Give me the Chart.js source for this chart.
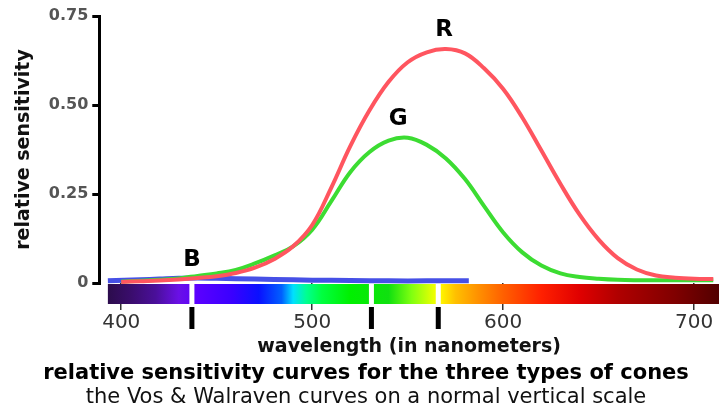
<!DOCTYPE html>
<html lang="en">
<head>
	<meta charset="UTF-8">
	<title>Cone sensitivity</title>
	<script src="https://cdn.jsdelivr.net/npm/chart.js@4.4.1/dist/chart.umd.min.js"></script>
	<style>
		body { margin: 0; background: #fff; }
		#wrap { width: 719px; height: 410px; }
	</style>
</head>
<body>
	<div id="wrap"><canvas id="myChart"></canvas></div>

	<script>
		// wavelengths (nm) for the R and G curves
		const wavelengths = [400, 410, 420, 430, 440, 450, 460, 470, 480, 490, 500, 510, 520, 530, 540, 550, 560, 570, 580, 590, 600, 610, 620, 630, 640, 650, 660, 670, 680, 690, 700, 710]
		const redValues = [0.003, 0.005, 0.007, 0.010, 0.014, 0.019, 0.028, 0.043, 0.067, 0.103, 0.163, 0.268, 0.385, 0.485, 0.565, 0.620, 0.648, 0.657, 0.645, 0.603, 0.545, 0.465, 0.372, 0.278, 0.192, 0.122, 0.070, 0.038, 0.021, 0.015, 0.012, 0.011]
		const greenValues = [0.004, 0.006, 0.009, 0.013, 0.020, 0.027, 0.037, 0.055, 0.077, 0.103, 0.150, 0.230, 0.312, 0.368, 0.400, 0.408, 0.388, 0.350, 0.292, 0.216, 0.142, 0.086, 0.049, 0.027, 0.017, 0.012, 0.009, 0.008, 0.008, 0.008, 0.008, 0.008]

		// the B curve is short and nearly flat
		const blueWavelengths = [393, 410, 420, 430, 440, 450, 460, 480, 500, 520, 540, 560, 582]
		const blueValues = [0.006, 0.009, 0.011, 0.013, 0.014, 0.013, 0.012, 0.010, 0.008, 0.007, 0.006, 0.006, 0.006]

		const xTicks = [400, 500, 600, 700]
		const yTicks = [0, 0.25, 0.50, 0.75]
		const yTickLabels = ['0', '0.25', '0.50', '0.75']

		// peak marks under the spectrum (B, G, R)
		const peakMarks = [437, 531, 566]

		// curve letters: name, wavelength, value
		const curveLabels = [['R', 569, 0.66], ['G', 545, 0.41], ['B', 437, 0.014]]

		// spectrum colour stops
		const spectrumStops = [
			[393, '#2c0c4c'], [405, '#3a0d6c'], [418, '#4a0f9a'], [430, '#6a10e6'],
			[440, '#5a00ff'], [458, '#3a00ff'], [472, '#0a10ff'], [484, '#0060ff'],
			[490, '#00e0ff'], [497, '#00ff90'], [505, '#00ff40'], [520, '#00f000'],
			[540, '#10e010'], [552, '#80ff10'], [566, '#ffff00'], [575, '#ffc000'],
			[587, '#ff9000'], [600, '#ff6000'], [620, '#ff2000'], [640, '#e00000'],
			[660, '#b00000'], [690, '#800000'], [714, '#500000']
		]

		const toPoints = (xs, ys) => xs.map((x, i) => ({ x: x, y: ys[i] }))

		const spectrumPlugin = {
			id: 'spectrum',
			beforeDatasetsDraw(chart) {
				const ctx = chart.ctx
				const xs = chart.scales.x
				const area = chart.chartArea
				const x0 = xs.getPixelForValue(spectrumStops[0][0])
				const x1 = xs.getPixelForValue(spectrumStops[spectrumStops.length - 1][0])
				const top = area.bottom + 1
				const h = 20
				const grad = ctx.createLinearGradient(x0, 0, x1, 0)
				spectrumStops.forEach(s => {
					grad.addColorStop((xs.getPixelForValue(s[0]) - x0) / (x1 - x0), s[1])
				})
				ctx.save()
				ctx.fillStyle = grad
				ctx.fillRect(x0, top, x1 - x0, h)
				peakMarks.forEach(w => {
					const px = xs.getPixelForValue(w)
					ctx.fillStyle = '#fff'
					ctx.fillRect(px - 2.5, top, 5, h)
					ctx.fillStyle = '#000'
					ctx.fillRect(px - 2.5, top + h + 3, 5, 22)
				})
				ctx.restore()
			},
			afterDatasetsDraw(chart) {
				const ctx = chart.ctx
				const xs = chart.scales.x
				const ys = chart.scales.y
				ctx.save()
				ctx.font = 'bold 23px "DejaVu Sans"'
				ctx.fillStyle = '#000'
				ctx.textAlign = 'center'
				ctx.textBaseline = 'middle'
				curveLabels.forEach(l => {
					ctx.fillText(l[0], xs.getPixelForValue(l[1]), ys.getPixelForValue(l[2]) - 18)
				})
				ctx.restore()
			}
		}

		var ctx = document.getElementById('myChart').getContext('2d')

		var chart = new Chart(ctx, {
			type: 'line',
			data: {
				datasets: [{
					label: 'R',
					data: toPoints(wavelengths, redValues),
					borderColor: 'rgb(255, 85, 95)',
					borderWidth: 4,
					clip: false
				}, {
					label: 'G',
					data: toPoints(wavelengths, greenValues),
					borderColor: 'rgb(60, 220, 50)',
					borderWidth: 4,
					clip: false
				}, {
					label: 'B',
					data: toPoints(blueWavelengths, blueValues),
					borderColor: 'rgb(70, 80, 230)',
					borderWidth: 5,
					clip: false
				}]
			},
			options: {
				responsive: true,
				maintainAspectRatio: false,
				animation: false,
				elements: {
					point: { radius: 0 },
					line: { tension: 0.4 }
				},
				layout: { padding: { top: 16, right: 0, left: 13, bottom: 2 } },
				scales: {
					x: {
						type: 'linear',
						min: 388.5,
						max: 713,
						afterBuildTicks: axis => { axis.ticks = xTicks.map(v => ({ value: v })) },
						grid: { drawOnChartArea: false, drawTicks: true, tickLength: 27, color: '#333', lineWidth: 1.5 },
						border: { display: false },
						ticks: { padding: 3, color: '#333', font: { family: 'DejaVu Sans', size: 20, lineHeight: 1 }, maxRotation: 0 },
						title: { display: true, text: 'wavelength (in nanometers)', color: '#111', font: { family: 'DejaVu Sans', size: 19, weight: 'bold', lineHeight: 1 }, padding: { top: 2, bottom: 2 } }
					},
					y: {
						min: 0,
						max: 0.75,
						afterBuildTicks: axis => { axis.ticks = yTicks.map(v => ({ value: v })) },
						grid: { drawOnChartArea: false, drawTicks: true, tickLength: 7, color: '#000', lineWidth: 3 },
						border: { display: true, color: '#000', width: 3 },
						ticks: {
							padding: 4,
							color: '#555',
							font: { family: 'DejaVu Sans', size: 16, weight: 'bold' },
							callback: (v, i) => yTickLabels[i]
						},
						title: { display: true, text: 'relative sensitivity', color: '#111', font: { family: 'DejaVu Sans', size: 19, weight: 'bold' }, padding: { top: 0, bottom: 9 } }
					}
				},
				plugins: {
					legend: { display: false },
					tooltip: { enabled: false },
					title: {
						display: true,
						position: 'bottom',
						text: 'relative sensitivity curves for the three types of cones',
						color: '#000',
						font: { family: 'DejaVu Sans', size: 21, weight: 'bold', lineHeight: 1 },
						padding: { top: 4, bottom: 0 },
						weight: 1000
					},
					subtitle: {
						display: true,
						position: 'bottom',
						text: 'the Vos & Walraven curves on a normal vertical scale',
						color: '#111',
						font: { family: 'DejaVu Sans', size: 21, lineHeight: 1 },
						padding: { top: 3, bottom: 0 },
						weight: 3000
					}
				}
			},
			plugins: [spectrumPlugin]
		})
	</script>
</body>
</html>
